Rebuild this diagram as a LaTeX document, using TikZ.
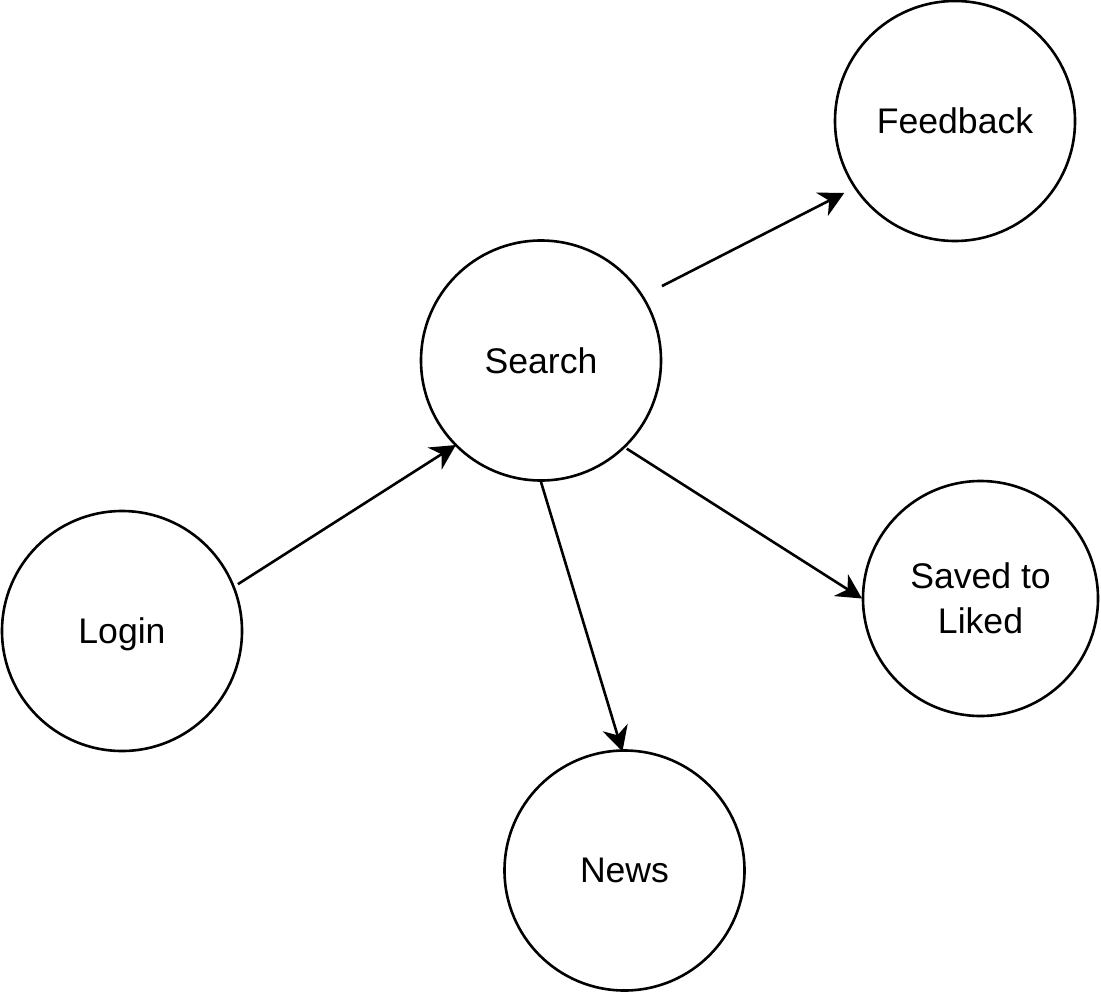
\documentclass[tikz,border=0pt]{standalone}
\usepackage{fontspec}
\setmainfont{Liberation Sans}
\usetikzlibrary{arrows.meta,calc}
\begin{document}
\begin{tikzpicture}[x=0.5pt,y=0.5pt,
  state/.style={circle,draw=black,line width=1.3pt,minimum size=120pt,inner sep=0pt,
    font=\fontsize{17.8pt}{22.5pt}\selectfont,align=center,text depth=0pt},
  conn/.style={line width=1.3pt,-{Stealth[length=12.5pt,width=13pt,inset=4pt]}}]
\useasboundingbox (0,0) rectangle (1101,993);
\node[state] (login) at (122,362) {Login};
\node[state] (search) at (541,632.5) {Search};
\node[state] (feedback) at (955,872) {Feedback};
\node[state,minimum size=117.5pt] (saved) at (980.5,394.5) {Saved to\\Liked};
\node[state] (news) at (624.5,122.5) {News};
\draw[conn] ($(login)+(22:125)$) -- ($(search)+(224.8:120)$);
\draw[conn] ($(search)+(31.6:142)$) -- ($(feedback)+(213:132)$);
\draw[conn] ($(search)+(-45.8:123)$) -- ($(saved)+(180:118.5)$);
\draw[conn] ($(search)+(270:121.5)$) -- ($(news)+(91:119)$);
\end{tikzpicture}
\end{document}
